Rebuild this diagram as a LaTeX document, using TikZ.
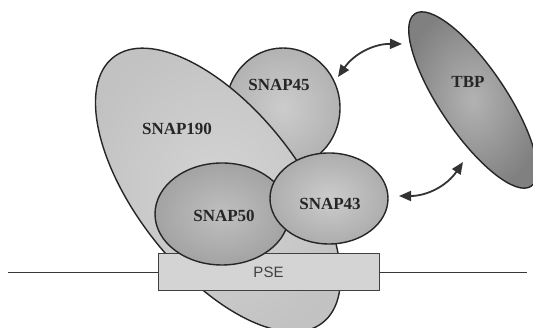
\documentclass[tikz,border=0pt]{standalone}
\usepackage{fontspec}
\setmainfont{Liberation Serif}
\newfontfamily\psefont{Liberation Sans}
\usetikzlibrary{shapes.geometric,arrows.meta}
\begin{document}
\begin{tikzpicture}[x=1pt,y=1pt,
  blob/.style={ellipse,draw=black!85,line width=1.4pt,inner sep=0pt},
  lbl/.style={font=\fontsize{17}{17}\selectfont\bfseries,text=black!85},
  dbl/.style={{Triangle[length=12pt,width=10pt]}-{Triangle[length=12pt,width=10pt]},line width=1.8pt,draw=black!80}]
\useasboundingbox[fill=white] (0,0) rectangle (533,328);
% DNA line
\coordinate (dl) at (8,55.5);
\coordinate (dr) at (527,55.5);
\draw[line width=1.4pt,black!78] (dl) -- (dr);
% SNAP45
\node[blob,minimum width=114pt,minimum height=120pt,inner color=black!20,outer color=black!30] (s45) at (283,220) {};
% SNAP190
\node[blob,minimum width=338pt,minimum height=162pt,rotate=-51.7,inner color=black!17,outer color=black!24] (s190) at (218,138) {};
% PSE
\node[draw=black!75,line width=1pt,fill=black!17,minimum width=221pt,minimum height=37pt,inner sep=0pt,font=\psefont\fontsize{15}{15}\selectfont,text=black!75] (pse) at (268.5,55.5) {PSE};
% SNAP50
\node[blob,minimum width=134pt,minimum height=102pt,inner color=black!25,outer color=black!36] (s50) at (222,114) {};
% SNAP43
\node[blob,minimum width=118pt,minimum height=91pt,inner color=black!20,outer color=black!32] (s43) at (329,129.5) {};
% TBP
\node[blob,minimum width=208pt,minimum height=66pt,rotate=-56,inner color=black!30,outer color=black!50] (tbp) at (473,228) {};
% labels
\node[lbl] (t190) at (177,199) {SNAP190};
\node[lbl] (t45) at (279,243) {SNAP45};
\node[lbl] (t50) at (224,112) {SNAP50};
\node[lbl] (t43) at (330,124) {SNAP43};
\node[lbl] (ttbp) at (468,246) {TBP};
% arrows
\coordinate (a1s) at (338,251);
\coordinate (a1e) at (402,284);
\coordinate (a2s) at (399,132);
\coordinate (a2e) at (463,166);
\draw[dbl] (a1s) to[bend left=28] (a1e);
\draw[dbl] (a2s) to[bend right=28] (a2e);
\end{tikzpicture}
\end{document}
